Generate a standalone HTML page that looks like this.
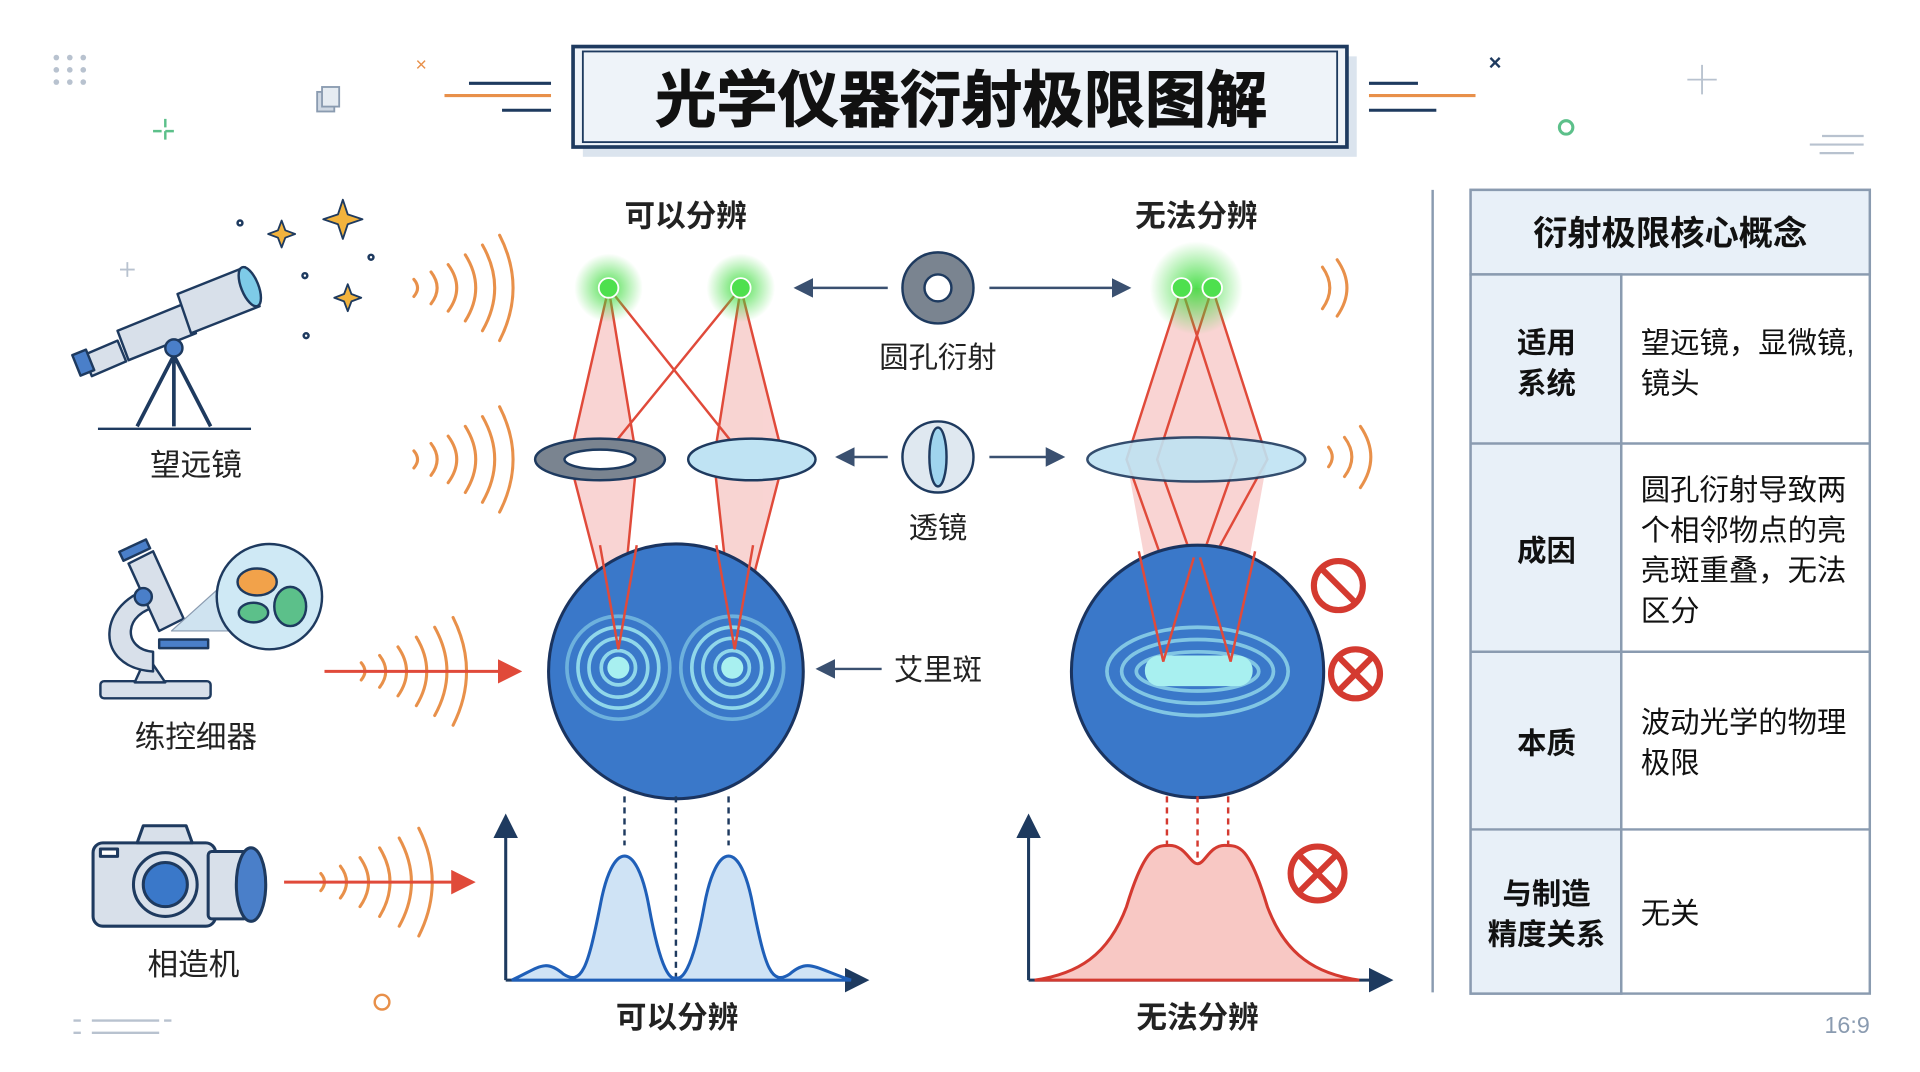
<!DOCTYPE html>
<html><head><meta charset="utf-8"><style>
html,body{margin:0;padding:0;background:#fff;width:1920px;height:1072px;overflow:hidden}
svg{display:block}
text{font-family:"Liberation Sans","Noto Sans CJK SC",sans-serif}
</style></head><body>
<svg width="1920" height="1072" viewBox="0 0 1568 875" preserveAspectRatio="none" xmlns="http://www.w3.org/2000/svg">
<defs>
<radialGradient id="glow"><stop offset="0" stop-color="#3ddc3d" stop-opacity="0.9"/><stop offset="1" stop-color="#3ddc3d" stop-opacity="0"/></radialGradient>
<marker id="ar" markerWidth="8" markerHeight="8" refX="7" refY="4" orient="auto"><path d="M0,0 L8,4 L0,8z" fill="#3a5070"/></marker>
<marker id="arr" markerWidth="8" markerHeight="8" refX="7" refY="4" orient="auto"><path d="M0,0 L8,4 L0,8z" fill="#e04a3a"/></marker>
<marker id="arn" markerWidth="8" markerHeight="8" refX="4" refY="4" orient="auto"><path d="M0,0 L8,4 L0,8z" fill="#1e3a5f"/></marker>
</defs>
<rect width="1568" height="875" fill="#fff"/>
<!-- decor -->
<g fill="#b8c2cf"><circle cx="46" cy="47" r="2.3"/><circle cx="57" cy="47" r="2.3"/><circle cx="68" cy="47" r="2.3"/><circle cx="46" cy="57" r="2.3"/><circle cx="57" cy="57" r="2.3"/><circle cx="68" cy="57" r="2.3"/><circle cx="46" cy="67" r="2.3"/><circle cx="57" cy="67" r="2.3"/><circle cx="68" cy="67" r="2.3"/></g>
<text x="344" y="58" font-size="16" fill="#e8904a" text-anchor="middle">×</text>
<path d="M135,97v20M125,107h20" stroke="#5cc08a" stroke-width="2" stroke-dasharray="7 3"/>
<rect x="259" y="75" width="14" height="16" fill="#cfd8e3" stroke="#8a9bb0" stroke-width="1.5"/><rect x="263" y="71" width="14" height="16" fill="#e6ecf2" stroke="#8a9bb0" stroke-width="1.5"/>
<g stroke-width="2.5"><path d="M383,68h67M410,90h40" stroke="#1e3a5f"/><path d="M363,78h87" stroke="#e8904a"/><path d="M1118,68h40M1118,90h55" stroke="#1e3a5f"/><path d="M1118,78h87" stroke="#e8904a"/></g>
<text x="1221" y="57" font-size="18" fill="#1e3a5f" text-anchor="middle" font-weight="bold">×</text>
<path d="M1390,53v24M1378,65h24" stroke="#b8c2cf" stroke-width="1.5"/>
<circle cx="1279" cy="104" r="5.5" fill="none" stroke="#5cc08a" stroke-width="2.5"/>
<path d="M1488,111h34M1478,118h44M1486,125h28" stroke="#b8c2cf" stroke-width="1.8"/>
<path d="M60,833h6M75,833h55M60,843h6M75,843h55M134,833h6" stroke="#b8c2cf" stroke-width="2"/>
<circle cx="312" cy="818" r="6" fill="none" stroke="#e8904a" stroke-width="2"/>
<text x="1527" y="843" font-size="19" fill="#8a9bb0" text-anchor="end">16:9</text>
<!-- title -->
<rect x="476" y="46" width="632" height="82" fill="#dbe4ee"/>
<rect x="468" y="38" width="632" height="82" fill="#eef3f9" stroke="#1e3a5f" stroke-width="3"/>
<rect x="476" y="42" width="616" height="74" fill="none" stroke="#1e3a5f" stroke-width="1.5"/>
<text x="785" y="99" font-size="50" font-weight="bold" fill="#111" text-anchor="middle" stroke="#111" stroke-width="0.8">光学仪器衍射极限图解</text>
<!-- separator -->
<path d="M1170,155V810" stroke="#8a9bb0" stroke-width="2"/>
<!-- table -->
<g stroke="#8a9bb0" stroke-width="2">
<rect x="1201" y="155" width="326" height="656" fill="#fff"/>
<rect x="1201" y="155" width="326" height="69" fill="#e8f0f8"/>
<rect x="1201" y="224" width="123" height="587" fill="#e8f0f8"/>
<path d="M1201,362h326M1201,532h326M1201,677h326M1324,224V811"/>
</g>
<g font-size="24" fill="#111">
<text x="1364" y="200" font-size="28" font-weight="bold" text-anchor="middle">衍射极限核心概念</text>
<g font-weight="bold" text-anchor="middle"><text x="1263" y="288">适用</text><text x="1263" y="321">系统</text><text x="1263" y="458">成因</text><text x="1263" y="615">本质</text><text x="1263" y="738">与制造</text><text x="1263" y="771">精度关系</text></g>
<text x="1340" y="288">望远镜，显微镜,</text><text x="1340" y="321">镜头</text>
<text x="1340" y="408">圆孔衍射导致两</text><text x="1340" y="441">个相邻物点的亮</text><text x="1340" y="474">亮斑重叠，无法</text><text x="1340" y="507">区分</text>
<text x="1340" y="598">波动光学的物理</text><text x="1340" y="631">极限</text>
<text x="1340" y="754">无关</text>
</g>
<!-- left labels -->
<g font-size="25" fill="#222" text-anchor="middle"><text x="160" y="388">望远镜</text><text x="160" y="610">练控细器</text><text x="158" y="796">相造机</text>
<text x="560" y="185" font-weight="bold">可以分辨</text><text x="977" y="185" font-weight="bold">无法分辨</text>
<text x="766" y="300" font-size="24">圆孔衍射</text><text x="766" y="439" font-size="24">透镜</text><text x="766" y="555" font-size="24">艾里斑</text>
<text x="553" y="839" font-weight="bold">可以分辨</text><text x="978" y="839" font-weight="bold">无法分辨</text></g>
<!-- telescope -->
<g stroke="#1e3a5f" stroke-width="2" stroke-linejoin="round">
<path d="M80,350h125" fill="none"/>
<path d="M142,290L112,348M142,290L172,348M142,290V348" fill="none" stroke-width="3"/>
<polygon points="68,290 96,278 103,295 75,307" fill="#d8e0ea"/>
<polygon points="96,270 150,248 160,272 105,294" fill="#d8e0ea"/>
<polygon points="145,240 200,218 212,250 156,272" fill="#d8e0ea"/>
<rect x="62" y="287" width="12" height="18" fill="#4a7fc9" transform="rotate(-22 68 296)"/>
<ellipse cx="204" cy="234" rx="7" ry="17" fill="#7ecbe8" transform="rotate(-22 204 234)"/>
<circle cx="142" cy="284" r="7" fill="#4a7fc9"/>
<path d="M280,163l4,12 12,4-12,4-4,12-4-12-12-4 12-4z M230,180l3,8 8,3-8,3-3,8-3-8-8-3 8-3z M284,232l3,8 8,3-8,3-3,8-3-8-8-3 8-3z" fill="#f2b33d" stroke-width="1.5"/>
<circle cx="196" cy="182" r="2" fill="none"/><circle cx="249" cy="225" r="2" fill="none"/><circle cx="250" cy="274" r="2" fill="none"/><circle cx="303" cy="210" r="2" fill="none"/>
</g>
<path d="M104,214v12M98,220h12" stroke="#b8c2cf" stroke-width="1.5"/>
<!-- microscope -->
<g stroke="#1e3a5f" stroke-width="2" stroke-linejoin="round">
<rect x="82" y="556" width="90" height="14" rx="3" fill="#d8e0ea"/>
<path d="M110,557 L120,535 L135,557z" fill="#d8e0ea"/>
<path d="M125,480 C80,490 75,545 125,548 L125,532 C100,530 100,500 130,495z" fill="#d8e0ea"/>
<polygon points="105,460 125,450 150,505 130,515" fill="#d8e0ea"/>
<rect x="98" y="445" width="24" height="8" fill="#4a7fc9" transform="rotate(-25 110 449)"/>
<circle cx="117" cy="487" r="7" fill="#4a7fc9"/>
<rect x="130" y="522" width="40" height="7" fill="#4a7fc9"/>
<path d="M140,515 L190,470 L200,515z" fill="#cfe3f0" stroke="#8a9bb0" stroke-width="1"/>
<circle cx="220" cy="487" r="43" fill="#cfe9f5"/>
<ellipse cx="210" cy="475" rx="16" ry="11" fill="#f2a24a"/><ellipse cx="207" cy="500" rx="12" ry="8" fill="#5cc08a"/><ellipse cx="237" cy="495" rx="13" ry="16" fill="#5cc08a"/>
</g>
<!-- camera -->
<g stroke="#1e3a5f" stroke-width="2.5" stroke-linejoin="round">
<rect x="76" y="688" width="100" height="68" rx="8" fill="#d8e0ea"/>
<path d="M112,688 l5,-14 h35 l5,14z" fill="#d8e0ea"/>
<rect x="170" y="695" width="32" height="55" rx="3" fill="#d8e0ea"/>
<ellipse cx="205" cy="722" rx="12" ry="30" fill="#4a7fc9"/>
<circle cx="135" cy="722" r="26" fill="#d8e0ea"/><circle cx="135" cy="722" r="18" fill="#3a78c9"/>
<rect x="82" y="693" width="14" height="6" fill="#fff"/>
</g>
<!-- waves -->
<g fill="none" stroke="#e8904a" stroke-width="2.5" stroke-linecap="round">
<path d="M338,228q6,7 0,14M352,222q10,13 0,26M366,216q14,19 0,38M380,208q17,27 0,54M394,200q20,35 0,70M408,192q22,43 0,86"/>
<path d="M338,368q6,7 0,14M352,362q10,13 0,26M366,356q14,19 0,38M380,348q17,27 0,54M394,340q20,35 0,70M408,332q22,43 0,86"/>
<path d="M295,541q6,7 0,14M310,535q10,13 0,26M325,528q14,20 0,40M340,520q17,28 0,56M355,512q20,36 0,72M370,504q22,44 0,88"/>
<path d="M262,713q6,7 0,14M278,707q10,13 0,26M294,700q14,20 0,40M310,692q17,28 0,56M326,684q20,36 0,72M342,676q22,44 0,88"/>
<path d="M1080,218q12,17 0,34M1092,212q16,23 0,46" />
<path d="M1085,365q6,8 0,16M1098,357q12,16 0,32M1111,348q17,25 0,50"/>
</g>
<path d="M265,548H424" stroke="#e04a3a" stroke-width="2.5" marker-end="url(#arr)"/>
<path d="M232,720H386" stroke="#e04a3a" stroke-width="2.5" marker-end="url(#arr)"/>
<!-- center icons -->
<circle cx="766" cy="235" r="29" fill="#7a8490" stroke="#1e3a5f" stroke-width="2"/><circle cx="766" cy="235" r="11" fill="#fff" stroke="#1e3a5f" stroke-width="2"/>
<ellipse cx="766" cy="373" rx="29" ry="29" fill="#dfe8f0" stroke="#1e3a5f" stroke-width="2"/><ellipse cx="766" cy="373" rx="7" ry="24" fill="#9fd4ee" stroke="#1e3a5f" stroke-width="2"/>
<g stroke="#3a5070" stroke-width="2" marker-end="url(#ar)"><path d="M725,235H650"/><path d="M808,235H922"/><path d="M725,373H684"/><path d="M808,373H868"/><path d="M720,546H668"/></g>
<!-- left rays -->
<g fill="#f5b8b5" opacity="0.6"><polygon points="497,235 465,375 505,530 520,375"/><polygon points="605,235 583,375 600,530 640,375"/></g>
<g stroke="#e04a3a" stroke-width="2" fill="none"><path d="M497,235L465,375L505,530M497,235L520,375L505,530M605,235L640,375L600,530M605,235L583,375L600,530M497,235L605,370M605,235L495,370"/></g>
<ellipse cx="490" cy="375" rx="53" ry="17" fill="#7a8490" stroke="#1e3a5f" stroke-width="2"/><ellipse cx="490" cy="375" rx="29" ry="8" fill="#fff" stroke="#1e3a5f" stroke-width="2"/>
<ellipse cx="614" cy="375" rx="52" ry="17" fill="#bfe3f3" stroke="#1e3a5f" stroke-width="2"/>
<!-- right rays -->
<polygon points="965,235 920,375 950,540 1005,540 1035,375 990,235" fill="#f5b8b5" opacity="0.6"/>
<g stroke="#e04a3a" stroke-width="2" fill="none"><path d="M965,235L920,375L975,530M990,235L1035,375L950,530M965,235L1010,375L955,530M990,235L945,375L1000,530"/></g>
<ellipse cx="977" cy="375" rx="89" ry="18" fill="#bfe3f3" stroke="#1e3a5f" stroke-width="2" opacity="0.9"/>
<!-- big circles -->
<circle cx="552" cy="548" r="104" fill="#3a78c9" stroke="#1a3460" stroke-width="2.5"/>
<g fill="none" stroke="#9fe8f0" stroke-width="3" opacity="0.85"><circle cx="505" cy="545" r="14"/><circle cx="505" cy="545" r="24"/><circle cx="505" cy="545" r="33"/><circle cx="505" cy="545" r="42" opacity="0.6"/><circle cx="598" cy="545" r="14"/><circle cx="598" cy="545" r="24"/><circle cx="598" cy="545" r="33"/><circle cx="598" cy="545" r="42" opacity="0.6"/></g>
<circle cx="505" cy="545" r="9" fill="#a8f0f0"/><circle cx="598" cy="545" r="9" fill="#a8f0f0"/>
<g stroke="#e04a3a" stroke-width="2" fill="none"><path d="M520,445L505,530L490,445M615,445L600,530L585,445"/></g>
<circle cx="978" cy="548" r="103" fill="#3a78c9" stroke="#1a3460" stroke-width="2.5"/>
<g fill="none" stroke="#9fe8f0" stroke-width="3" opacity="0.7"><ellipse cx="978" cy="548" rx="50" ry="16"/><ellipse cx="978" cy="548" rx="62" ry="26"/><ellipse cx="978" cy="548" rx="74" ry="36"/></g>
<rect x="935" y="535" width="88" height="25" rx="12" fill="#a8f0f0"/>
<g stroke="#e04a3a" stroke-width="2" fill="none"><path d="M930,450L950,540L975,455M1025,450L1005,540L980,455"/></g>
<!-- no icons -->
<g stroke="#d43a30" stroke-width="5" fill="none"><circle cx="1093" cy="478" r="20"/><path d="M1079,464L1107,492"/><circle cx="1107" cy="550" r="20"/><path d="M1093,536L1121,564M1121,536L1093,564"/><circle cx="1076" cy="713" r="22"/><path d="M1061,698L1091,728M1091,698L1061,728"/></g>
<!-- graphs -->
<g stroke="#1e3a5f" stroke-width="2" stroke-dasharray="5 4"><path d="M510,650V690M552,650V800M595,650V690"/></g>
<g stroke="#d43a30" stroke-width="2" stroke-dasharray="5 4"><path d="M953,650V690M978,650V705M1003,650V690"/></g>
<g stroke="#1e3a5f" stroke-width="2.5" fill="none" marker-end="url(#arn)"><path d="M413,800V674"/><path d="M413,800H700"/><path d="M840,800V674"/><path d="M840,800H1128"/></g>
<path d="M418,800 C440,790 445,782 460,795 C475,805 480,790 490,740 C500,685 520,685 530,740 C540,795 548,800 552,798 C556,800 565,795 575,740 C585,685 605,685 615,740 C625,790 630,805 645,795 C660,782 665,790 695,800Z" fill="#cfe3f5" stroke="#1f5fb8" stroke-width="2.5"/>
<path d="M845,800 C880,795 905,780 920,740 C935,690 945,690 955,690 C968,690 972,705 978,705 C984,705 988,690 1000,690 C1012,690 1020,690 1035,740 C1050,780 1075,795 1110,800Z" fill="#f8c8c4" stroke="#d43a30" stroke-width="2.5"/>
<!-- green dots -->
<circle cx="497" cy="235" r="28" fill="url(#glow)"/><circle cx="605" cy="235" r="28" fill="url(#glow)"/><circle cx="977" cy="235" r="38" fill="url(#glow)"/>
<g fill="#4ee04e" stroke="#fff" stroke-width="1.5"><circle cx="497" cy="235" r="8"/><circle cx="605" cy="235" r="8"/><circle cx="965" cy="235" r="8"/><circle cx="990" cy="235" r="8"/></g>
</svg>
</body></html>
